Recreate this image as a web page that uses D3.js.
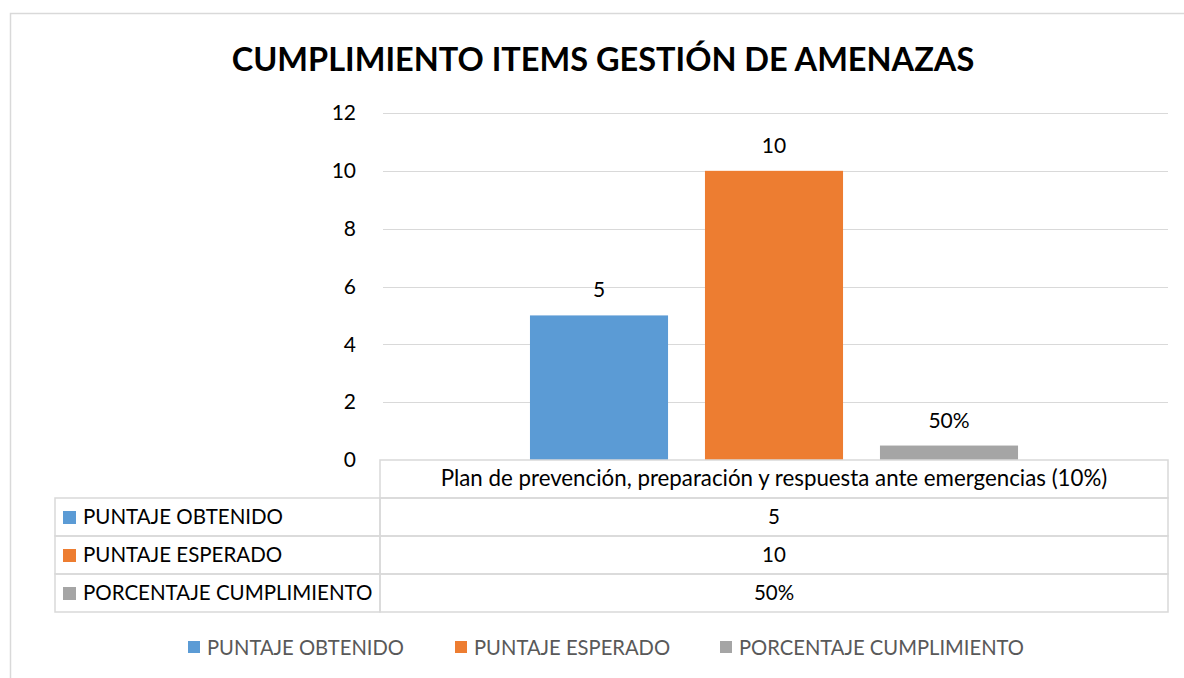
<!DOCTYPE html>
<html>
<head>
<meta charset="utf-8">
<script src="https://cdn.jsdelivr.net/npm/d3@7"></script>
<style>
  body { margin: 0; background: #fff; }
  svg { display: block; font-family: Lato, "Open Sans", sans-serif; }
</style>
</head>
<body>
<div id="chart"></div>
<script>
const width = 1184;
const height = 678;

// data
const categories = ["Plan de prevención, preparación y respuesta ante emergencias (10%)"];
const seriesNames = ["PUNTAJE OBTENIDO", "PUNTAJE ESPERADO", "PORCENTAJE CUMPLIMIENTO"];
const seriesValues = [5, 10, 0.5];
const seriesLabels = ["5", "10", "50%"];
const seriesColors = ["#5b9bd5", "#ed7d31", "#a5a5a5"];
const yTicks = [0, 2, 4, 6, 8, 10, 12];

const svg = d3.select("#chart").append("svg")
	.attr("width", width)
	.attr("height", height);

// outer chart frame
svg.append("rect")
	.attr("x", 10.5).attr("y", 13.5)
	.attr("width", width + 10).attr("height", height + 10)
	.attr("fill", "none")
	.attr("stroke", "#d9d9d9")
	.attr("stroke-width", 1.5);

svg.append("text")
	.attr("x", 603).attr("y", 71)
	.attr("text-anchor", "middle")
	.attr("font-size", 32.5)
	.attr("font-weight", "bold")
	.attr("fill", "#000")
	.text("CUMPLIMIENTO ITEMS GESTIÓN DE AMENAZAS");

const plot = { left: 380, right: 1168, top: 113, bottom: 460 };

const y = d3.scaleLinear().domain([0, 12]).range([plot.bottom, plot.top]);

const x0 = d3.scaleBand().domain(categories).range([plot.left, plot.right]);
const x1 = d3.scaleBand()
	.domain(seriesNames)
	.range([0, x0.bandwidth()])
	.paddingInner(0.211)
	.paddingOuter(0.857);

// gridlines
svg.append("g")
	.selectAll("line")
	.data(yTicks.filter(d => d > 0))
	.join("line")
	.attr("x1", plot.left + 3).attr("x2", plot.right)
	.attr("y1", d => Math.round(y(d)) + 0.5).attr("y2", d => Math.round(y(d)) + 0.5)
	.attr("stroke", "#d9d9d9")
	.attr("stroke-width", 1);

// y axis labels
const yAxis = d3.axisLeft(y).tickValues(yTicks).tickSize(0).tickPadding(0);
svg.append("g")
	.attr("transform", `translate(${plot.left - 24},0)`)
	.call(yAxis)
	.call(g => g.select(".domain").remove())
	.selectAll("text")
	.attr("font-size", 21)
	.attr("font-family", "Lato, sans-serif")
	.attr("fill", "#000");

// bars
const bars = svg.append("g");
categories.forEach(cat => {
	seriesNames.forEach((s, i) => {
		const bx = x0(cat) + x1(s);
		bars.append("rect")
			.attr("x", bx)
			.attr("y", y(seriesValues[i]))
			.attr("width", x1.bandwidth())
			.attr("height", y(0) - y(seriesValues[i]))
			.attr("fill", seriesColors[i]);
		bars.append("text")
			.attr("x", bx + x1.bandwidth() / 2)
			.attr("y", y(seriesValues[i]) - 18)
			.attr("text-anchor", "middle")
			.attr("font-size", 21)
			.attr("fill", "#000")
			.text(seriesLabels[i]);
	});
});

// data table
const rowH = 38;
const tableLeft = 55;
const tableTop = plot.bottom;
const gridColor = "#d9d9d9";
const table = svg.append("g");

// header row
table.append("rect")
	.attr("x", plot.left).attr("y", tableTop)
	.attr("width", plot.right - plot.left).attr("height", rowH)
	.attr("fill", "none").attr("stroke", gridColor).attr("stroke-width", 1.5);
categories.forEach(cat => {
	table.append("text")
		.attr("x", x0(cat) + x0.bandwidth() / 2)
		.attr("y", tableTop + rowH / 2 + 7)
		.attr("text-anchor", "middle")
		.attr("font-size", 22.3)
		.attr("fill", "#000")
		.text(cat);
});

seriesNames.forEach((s, i) => {
	const ry = tableTop + rowH * (i + 1);
	table.append("rect")
		.attr("x", tableLeft).attr("y", ry)
		.attr("width", plot.left - tableLeft).attr("height", rowH)
		.attr("fill", "none").attr("stroke", gridColor).attr("stroke-width", 1.5);
	table.append("rect")
		.attr("x", plot.left).attr("y", ry)
		.attr("width", plot.right - plot.left).attr("height", rowH)
		.attr("fill", "none").attr("stroke", gridColor).attr("stroke-width", 1.5);
	table.append("rect")
		.attr("x", 63).attr("y", ry + 13)
		.attr("width", 13).attr("height", 13)
		.attr("fill", seriesColors[i]);
	table.append("text")
		.attr("x", 83).attr("y", ry + rowH / 2 + 7)
		.attr("font-size", 20.5)
		.attr("fill", "#000")
		.text(s);
	categories.forEach(cat => {
		table.append("text")
			.attr("x", x0(cat) + x0.bandwidth() / 2)
			.attr("y", ry + rowH / 2 + 7)
			.attr("text-anchor", "middle")
			.attr("font-size", 20.5)
			.attr("fill", "#000")
			.text(seriesLabels[i]);
	});
});

// legend
const legendX = [188, 455, 720];
const legend = svg.append("g");
seriesNames.forEach((s, i) => {
	legend.append("rect")
		.attr("x", legendX[i]).attr("y", 641)
		.attr("width", 12).attr("height", 12)
		.attr("fill", seriesColors[i]);
	legend.append("text")
		.attr("x", legendX[i] + 19).attr("y", 655)
		.attr("font-size", 20.2)
		.attr("fill", "#595959")
		.text(s);
});
</script>
</body>
</html>
